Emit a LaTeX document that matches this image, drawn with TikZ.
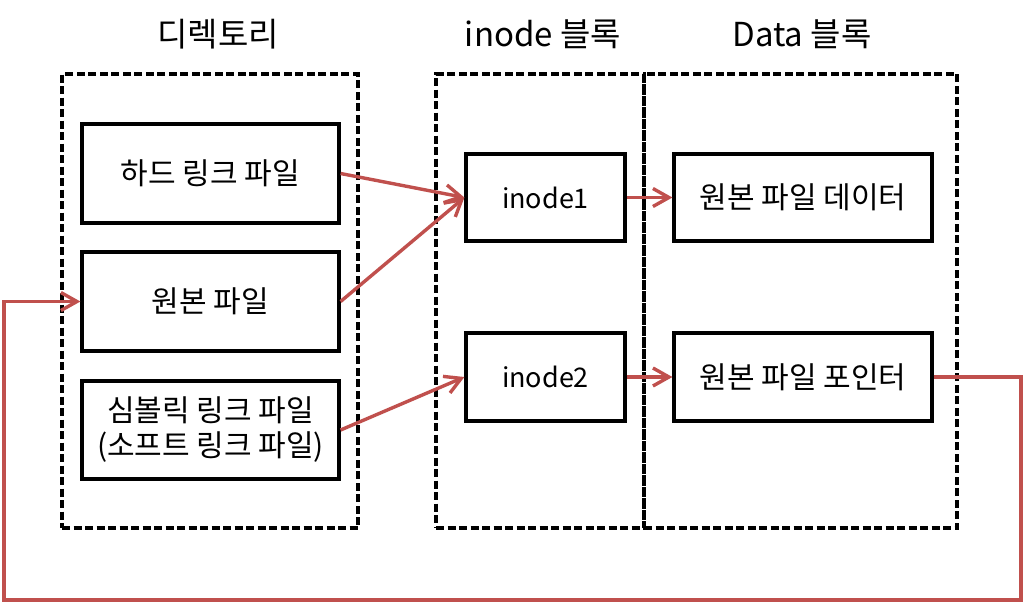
\documentclass[tikz,border=0pt]{standalone}
\usepackage{fontspec}
\setmainfont{Noto Sans CJK KR}
\usetikzlibrary{arrows.meta}
\definecolor{linkred}{HTML}{C0504D}
\begin{document}
\begin{tikzpicture}[x=1pt,y=-1pt,
  box/.style={draw=black,line width=3.2pt,rectangle,inner sep=0pt,font=\fontsize{30}{35}\selectfont,align=center},
  latinbox/.style={box,font=\fontsize{27}{32}\selectfont},
  group/.style={draw=black,line width=3.2pt,dash pattern=on 8pt off 3.5pt,rectangle,inner sep=0pt},
  title/.style={font=\fontsize{33}{38}\selectfont,inner sep=0pt},
  link/.style={draw=linkred,line width=3.4pt,-{Straight Barb[length=16pt,width=18pt]}}]
\useasboundingbox (0,0) rectangle (1024,603);
% groups
\node[group,minimum width=296pt,minimum height=454pt] (dir) at (210,301) {};
\node[group,minimum width=208pt,minimum height=454pt] (iblk) at (540,301) {};
\node[group,minimum width=313pt,minimum height=454pt] (dblk) at (800.5,301) {};
% titles
\node[title] (t1) at (218,34) {디렉토리};
\node[title] (t2) at (543,34) {inode 블록};
\node[title] (t3) at (802,34) {Data 블록};
% boxes
\node[box,minimum width=257pt,minimum height=99pt] (hard) at (210.5,173.5) {하드 링크 파일};
\node[box,minimum width=257pt,minimum height=99pt] (orig) at (210.5,301.5) {원본 파일};
\node[box,minimum width=257pt,minimum height=98pt] (sym) at (210.5,430) {심볼릭 링크 파일\\(소프트 링크 파일)};
\node[latinbox,minimum width=159pt,minimum height=87pt] (in1) at (545.5,197.5) {inode1};
\node[latinbox,minimum width=159pt,minimum height=88pt] (in2) at (545.5,377) {inode2};
\node[box,minimum width=258pt,minimum height=87pt] (d1) at (803,197.5) {원본 파일 데이터};
\node[box,minimum width=258pt,minimum height=88pt] (d2) at (803,377) {원본 파일 포인터};
% connectors
\draw[link] (hard.east) -- (in1.west);
\draw[link] (orig.east) -- (in1.west);
\draw[link] (sym.east) -- (in2.west);
\draw[link] (in1.east) -- (d1.west);
\draw[link] (in2.east) -- (d2.west);
\coordinate (c1) at (1021,377);
\coordinate (c2) at (1021,600);
\coordinate (c3) at (4,600);
\coordinate (c4) at (4,301.5);
\draw[link,line join=miter] (d2.east) -- (c1) -- (c2) -- (c3) -- (c4) -- (orig.west);
\end{tikzpicture}
\end{document}
